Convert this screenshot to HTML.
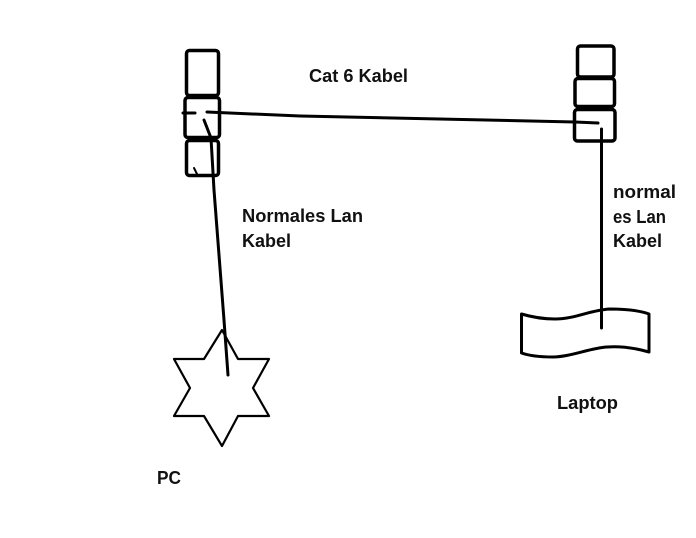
<!DOCTYPE html>
<html><head><meta charset="utf-8"><style>
html,body{margin:0;padding:0;background:#fff;width:696px;height:538px;overflow:hidden}
svg{display:block}
text{font-family:"Liberation Sans",sans-serif;font-weight:bold;font-size:18px;fill:#111}
</style></head><body>
<svg width="696" height="538" viewBox="0 0 696 538">
<g fill="none" stroke="#000" stroke-width="3.500" stroke-linejoin="round" stroke-linecap="round">
<rect x="186.500" y="50.500" width="32" height="45" rx="3"/>
<rect x="185" y="97.500" width="34.500" height="40" rx="3"/>
<rect x="186.500" y="140.500" width="32" height="35" rx="3"/>
<rect x="577.500" y="46" width="36.500" height="31" rx="3"/>
<rect x="575" y="78.500" width="39.500" height="28" rx="3"/>
<rect x="574.500" y="109.500" width="40.500" height="31.500" rx="3"/>
<path d="M194 168L197 174" stroke-width="2"/>
<path d="M183 113H195M207 112L300 116L575 122L598 123" stroke-width="3"/>
<path d="M204 120L211 138L214 190L224 320L228 375" stroke-width="3"/>
<path d="M601.500 129V328" stroke-width="3"/>
<path d="M222 330L238 359H269L253 388L269 416H238L222 446L204 416H174L190 388L174 359H204Z" stroke-width="2.200"/>
<path d="M521.500 314C535 318 545 319 555 319C575 319 590 310 610 309C625 309 638 310 649 314V352C635 348 620 346 607 347C590 348 570 357 553 357C540 357 530 356 521.500 353Z" stroke-width="3"/>
</g>
<text x="309" y="82" textLength="99" lengthAdjust="spacingAndGlyphs">Cat 6 Kabel</text>
<text x="242" y="222" textLength="121" lengthAdjust="spacingAndGlyphs">Normales Lan</text>
<text x="242" y="247" textLength="49" lengthAdjust="spacingAndGlyphs">Kabel</text>
<text x="613" y="198" textLength="63" lengthAdjust="spacingAndGlyphs">normal</text>
<text x="613" y="223" textLength="53" lengthAdjust="spacingAndGlyphs">es Lan</text>
<text x="613" y="247" textLength="49" lengthAdjust="spacingAndGlyphs">Kabel</text>
<text x="557" y="409" textLength="61" lengthAdjust="spacingAndGlyphs">Laptop</text>
<text x="157" y="484" textLength="24" lengthAdjust="spacingAndGlyphs">PC</text>
</svg>
</body></html>
